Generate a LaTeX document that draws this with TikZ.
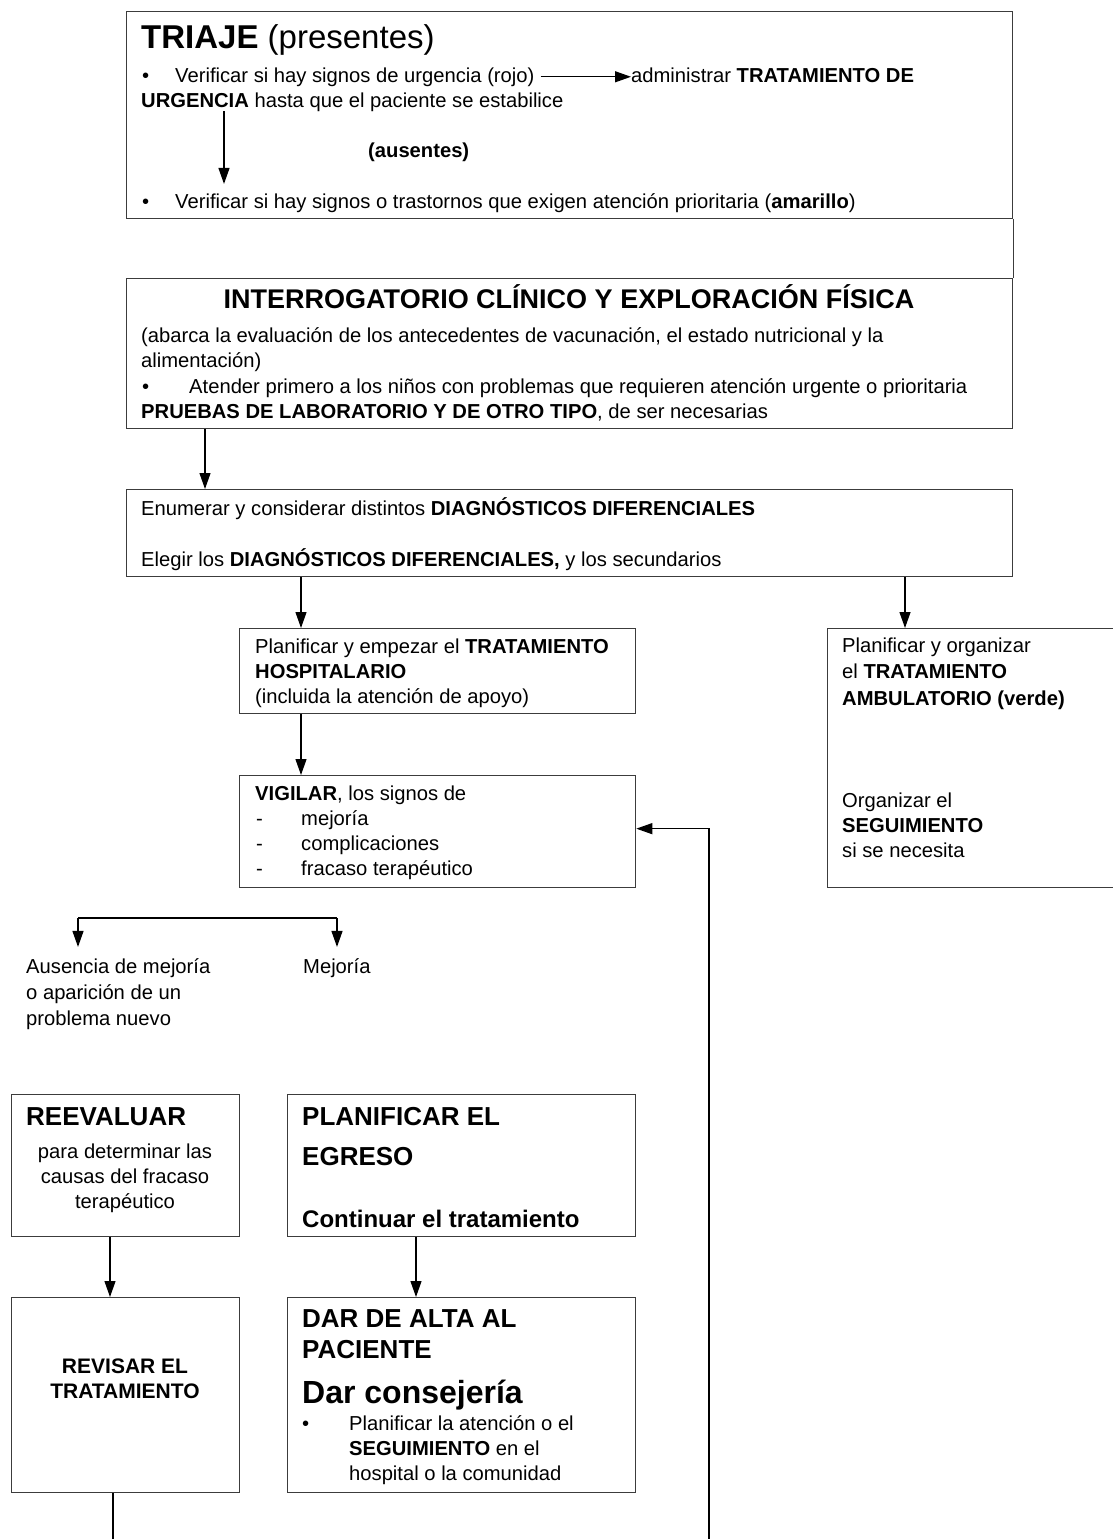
\documentclass[tikz,border=0pt]{standalone}
\usepackage{fontspec}
\setmainfont{Liberation Sans}
\usetikzlibrary{arrows.meta}
\definecolor{boxgray}{HTML}{3C3C3C}

\begin{document}
\begin{tikzpicture}[x=1pt, y=-1pt,
  every node/.style={font=\fontsize{20.2}{25}\selectfont},
  box/.style={draw=boxgray, line width=1.3pt, anchor=north west, inner sep=0pt},
  txt/.style={anchor=base west, inner sep=0pt, align=left},
  ctxt/.style={anchor=base, inner sep=0pt, align=center},
  arr/.style={-{Triangle[length=16pt, width=11pt]}, line width=1.2pt},
  big/.style={font=\fontsize{26}{31}\selectfont\bfseries}]
\useasboundingbox (0,0) rectangle (1112,1539);

% boxes
\node[box, minimum width=886pt, minimum height=207pt] (triage) at (126,11) {};
\node[box, minimum width=886pt, minimum height=150pt] (interro) at (126,278) {};
\node[box, minimum width=886pt, minimum height=87pt] (diag) at (126,489) {};
\node[box, minimum width=396pt, minimum height=85pt] (hosp) at (239,628) {};
\node[box, minimum width=292pt, minimum height=259pt] (amb) at (827,628) {};
\node[box, minimum width=396pt, minimum height=112pt] (vig) at (239,775) {};
\node[box, minimum width=228pt, minimum height=142pt] (reeval) at (11,1094) {};
\node[box, minimum width=348pt, minimum height=142pt] (egreso) at (287,1094) {};
\node[box, minimum width=228pt, minimum height=195pt] (revisar) at (11,1297) {};
\node[box, minimum width=348pt, minimum height=195pt] (alta) at (287,1297) {};

% triaje (multi-line texts are placed at their last baseline)
\node[txt, font=\fontsize{33}{38}\selectfont] (tri) at (141,48) {\textbf{TRIAJE} (presentes)};
\node[txt] (b1) at (142,82) {•};
\node[txt] (rojo) at (175,82) {Verificar si hay signos de urgencia (rojo)};
\node[txt] (admin) at (631,82) {administrar \textbf{TRATAMIENTO DE}};
\node[txt] (urg) at (141,107) {\textbf{URGENCIA} hasta que el paciente se estabilice};
\node[txt] (aus) at (368,157) {\textbf{(ausentes)}};
\node[txt] (b2) at (142,208) {•};
\node[txt] (amar) at (175,208) {Verificar si hay signos o trastornos que exigen atención prioritaria (\textbf{amarillo})};
\draw[arr] ([xshift=6pt]rojo.east) -- (rojo.east -| admin.west);
\draw[arr, shorten >=9pt] ([xshift=83pt]urg.south west) -- ([xshift=49pt]amar.north west);

% interrogatorio
\node[ctxt, font=\fontsize{27}{31}\selectfont\bfseries] (intitle) at (569,308) {INTERROGATORIO CLÍNICO Y EXPLORACIÓN FÍSICA};
\node[txt] (abarca) at (141,367) {(abarca la evaluación de los antecedentes de vacunación, el estado nutricional y la\\alimentación)};
\node[txt] (b3) at (142,393) {•};
\node[txt] (atender) at (189,393) {Atender primero a los niños con problemas que requieren atención urgente o prioritaria};
\node[txt] (pruebas) at (141,418) {\textbf{PRUEBAS DE LABORATORIO Y DE OTRO TIPO}, de ser necesarias};

% diagnosticos
\node[txt] (enum) at (141,515) {Enumerar y considerar distintos \textbf{DIAGNÓSTICOS DIFERENCIALES}};
\node[txt] (elegir) at (141,566) {Elegir los \textbf{DIAGNÓSTICOS DIFERENCIALES,} y los secundarios};

% tratamiento hospitalario y ambulatorio
\node[txt] (hosptxt) at (255,703) {Planificar y empezar el \textbf{TRATAMIENTO}\\\textbf{HOSPITALARIO}\\(incluida la atención de apoyo)};
\node[txt, font=\fontsize{20.2}{26.5}\selectfont] (ambtxt) at (842,705) {Planificar y organizar\\el \textbf{TRATAMIENTO}\\\textbf{AMBULATORIO (verde)}};
\node[txt] (segtxt) at (842,857) {Organizar el\\\textbf{SEGUIMIENTO}\\si se necesita};

% vigilar
\node[txt] (vigtxt) at (255,800) {\textbf{VIGILAR}, los signos de};
\foreach \item [count=\i] in {mejoría, complicaciones, fracaso terapéutico}{
  \node[txt] at (256,800+25*\i) {-};
  \node[txt] at (301,800+25*\i) {\item};
}

% ramas
\node[txt, font=\fontsize{20.2}{26}\selectfont] (ausencia) at (26,1025) {Ausencia de mejoría\\o aparición de un\\problema nuevo};
\node[txt] (mejoria) at (303,973) {Mejoría};
\coordinate (brl) at (78,918);
\coordinate (brr) at (337,918);
\draw[line width=1.2pt] (brl) -- (brr);
\draw[arr, shorten >=11pt] (brl) -- (brl |- ausencia.north);
\draw[arr, shorten >=11pt] (brr) -- (brr |- mejoria.north);

% reevaluar / egreso
\node[txt, big] (reevtitle) at (26,1125) {REEVALUAR};
\node[ctxt] (reevtxt) at (125,1208) {para determinar las\\causas del fracaso\\terapéutico};
\node[txt, font=\fontsize{26}{40}\selectfont\bfseries] (egtitle) at (302,1165) {PLANIFICAR EL\\EGRESO};
\node[txt, font=\fontsize{24}{28}\selectfont\bfseries] (contin) at (302,1227) {Continuar el tratamiento};

% revisar / alta
\node[ctxt, font=\fontsize{21}{25}\selectfont\bfseries] (revtxt) at (125,1398) {REVISAR EL\\TRATAMIENTO};
\node[txt, font=\fontsize{26}{31}\selectfont\bfseries] (altatitle) at (302,1358) {DAR DE ALTA AL\\PACIENTE};
\node[txt, font=\fontsize{32}{36}\selectfont\bfseries] (consej) at (302,1403) {Dar consejería};
\node[txt] (b4) at (302,1430) {•};
\node[txt] (plantxt) at (349,1480) {Planificar la atención o el\\\textbf{SEGUIMIENTO} en el\\hospital o la comunidad};

% conectores
\draw[line width=1.3pt, boxgray] (triage.south east) -- (interro.north east);
\draw[arr] ([xshift=79pt]interro.south west) -- ([xshift=79pt]diag.north west);
\draw[arr] ([xshift=175pt]diag.south west) -- ([xshift=62pt]hosp.north west);
\draw[arr] ([xshift=779pt]diag.south west) -- ([xshift=78pt]amb.north west);
\draw[arr] ([xshift=62pt]hosp.south west) -- ([xshift=62pt]vig.north west);
\draw[arr] ([xshift=99pt]reeval.south west) -- ([xshift=99pt]revisar.north west);
\draw[arr] ([xshift=129pt]egreso.south west) -- ([xshift=129pt]alta.north west);
\coordinate (revbot) at (113,1545);
\draw[line width=1.2pt] ([xshift=102pt]revisar.south west) -- (revbot);
\coordinate (loopbot) at (709,1545);
\draw[arr] (loopbot) |- ([yshift=3pt]vig.east);
\end{tikzpicture}
\end{document}
